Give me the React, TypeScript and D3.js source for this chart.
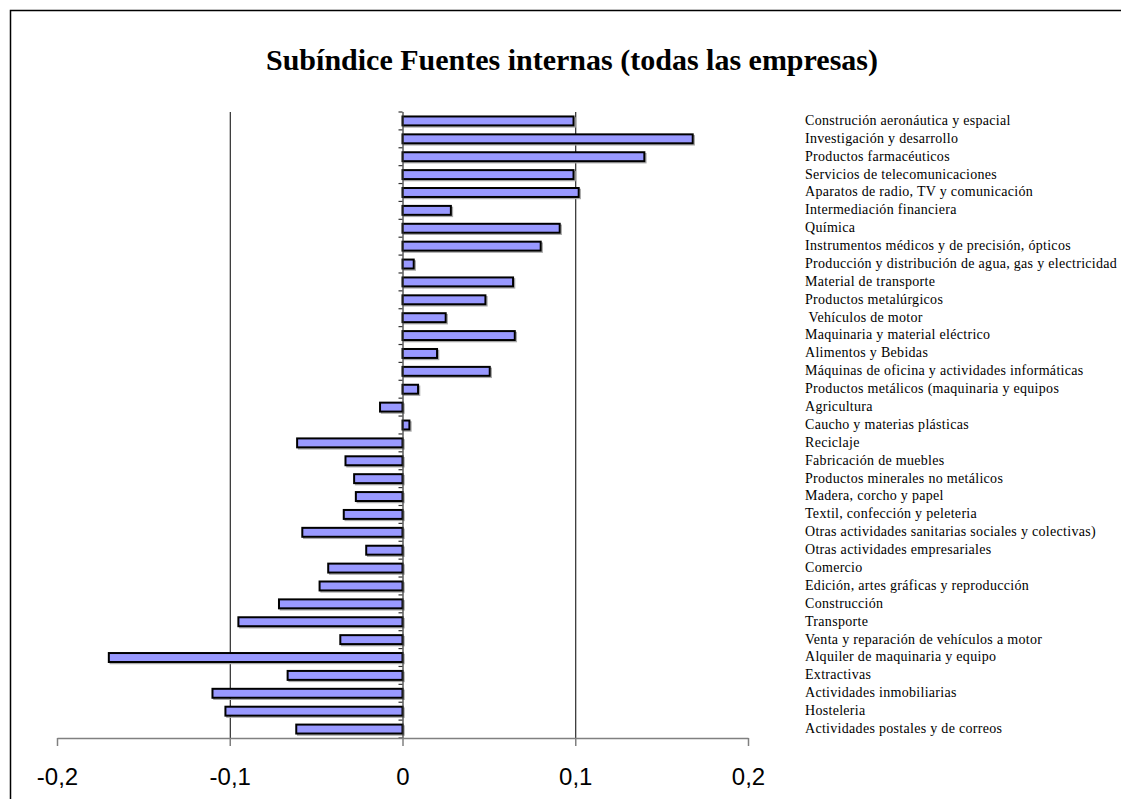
import React from 'react';
import * as d3 from 'd3';
import { useRef } from 'react';
import { useEffect } from 'react';

const categories = [
  'Construción aeronáutica y espacial',
  'Investigación y desarrollo',
  'Productos farmacéuticos',
  'Servicios de telecomunicaciones',
  'Aparatos de radio, TV y comunicación',
  'Intermediación financiera',
  'Química',
  'Instrumentos médicos y de precisión, ópticos',
  'Producción y distribución de agua, gas y electricidad',
  'Material de transporte',
  'Productos metalúrgicos',
  ' Vehículos de motor',
  'Maquinaria y material eléctrico',
  'Alimentos y Bebidas',
  'Máquinas de oficina y actividades informáticas',
  'Productos metálicos (maquinaria y equipos',
  'Agricultura',
  'Caucho y materias plásticas',
  'Reciclaje',
  'Fabricación de muebles',
  'Productos minerales no metálicos',
  'Madera, corcho y papel',
  'Textil, confección y peleteria',
  'Otras actividades sanitarias sociales y colectivas)',
  'Otras actividades empresariales',
  'Comercio',
  'Edición, artes gráficas y reproducción',
  'Construcción',
  'Transporte',
  'Venta y reparación de vehículos a motor',
  'Alquiler de maquinaria y equipo',
  'Extractivas',
  'Actividades inmobiliarias',
  'Hosteleria',
  'Actividades postales y de correos',
];

const values = [
  0.099, 0.168, 0.14, 0.099, 0.102, 0.028, 0.091, 0.08, 0.0065, 0.064,
  0.048, 0.025, 0.065, 0.02, 0.0505, 0.009, -0.013, 0.004, -0.061, -0.033,
  -0.028, -0.027, -0.034, -0.058, -0.021, -0.043, -0.048, -0.0715, -0.095, -0.036,
  -0.17, -0.0665, -0.11, -0.1025, -0.0615,
];

const xTicks = [-0.2, -0.1, 0, 0.1, 0.2];
const gridTicks = [-0.1, 0.1];

const title = 'Subíndice Fuentes internas (todas las empresas)';

function Chart({ width, height }: { width: number; height: number }) {
  const root = useRef<HTMLDivElement>(null);

  useEffect(() => {
    const createSVG = () => {
      const top = 112;
      const bottom = 738;

      const scaleX = d3.scaleLinear().domain([-0.2, 0.2]).range([57, 748]);

      const scaleY = d3
        .scaleBand<string>()
        .domain(categories)
        .range([top, bottom])
        .paddingInner(0.5)
        .paddingOuter(0.25);

      const svg = d3
        .create('svg')
        .attr('viewBox', `0, 0, ${width}, ${height}`)
        .attr('width', width)
        .attr('height', height)
        .style('position', 'absolute')
        .style('left', '0px')
        .style('top', '0px')
        .style('background', '#fff');

      // chart frame
      svg
        .append('rect')
        .attr('x', 10.5)
        .attr('y', 10.5)
        .attr('width', width + 20)
        .attr('height', height + 20)
        .attr('fill', '#fff')
        .attr('stroke', '#000')
        .attr('stroke-width', 1.5);

      svg
        .append('text')
        .attr('x', 572)
        .attr('y', 70)
        .attr('text-anchor', 'middle')
        .attr('font-family', '"Liberation Serif", "Times New Roman", serif')
        .attr('font-weight', 'bold')
        .attr('font-size', 30)
        .text(title);

      // gridlines
      svg
        .append('g')
        .selectAll('line')
        .data(gridTicks)
        .join('line')
        .attr('x1', d => scaleX(d) + 0.5)
        .attr('x2', d => scaleX(d) + 0.5)
        .attr('y1', top)
        .attr('y2', bottom)
        .attr('stroke', '#000')
        .attr('stroke-width', 1);

      // bar shadows
      svg
        .append('g')
        .selectAll('rect')
        .data(values)
        .join('rect')
        .attr('x', d => Math.min(scaleX(0), scaleX(d)) + 1.5)
        .attr('y', (d, i) => (scaleY(categories[i]) as number) + 1.5)
        .attr('width', d => Math.abs(scaleX(d) - scaleX(0)))
        .attr('height', scaleY.bandwidth())
        .attr('fill', 'none')
        .attr('stroke', '#aaa')
        .attr('stroke-width', 1.5);

      svg
        .append('g')
        .selectAll('rect')
        .data(values)
        .join('rect')
        .attr('x', d => Math.min(scaleX(0), scaleX(d)))
        .attr('y', (d, i) => scaleY(categories[i]) as number)
        .attr('width', d => Math.abs(scaleX(d) - scaleX(0)))
        .attr('height', scaleY.bandwidth())
        .attr('fill', '#9999ff')
        .attr('stroke', '#000')
        .attr('stroke-width', 2);

      // category axis at zero
      const step = scaleY.step();
      const bounds = d3.range(categories.length + 1).map(i => top + i * step);
      const yAxis = svg.append('g');
      yAxis
        .append('line')
        .attr('x1', scaleX(0) + 0.5)
        .attr('x2', scaleX(0) + 0.5)
        .attr('y1', top)
        .attr('y2', bottom)
        .attr('stroke', '#333')
        .attr('stroke-width', 1.2);
      yAxis
        .selectAll('line.tick')
        .data(bounds)
        .join('line')
        .attr('class', 'tick')
        .attr('x1', scaleX(0) - 4)
        .attr('x2', scaleX(0))
        .attr('y1', d => d)
        .attr('y2', d => d)
        .attr('stroke', '#333')
        .attr('stroke-width', 1.2);

      // value axis
      const xAxis = (g: any) => g
        .attr('transform', `translate(0,${bottom})`)
        .call(d3.axisBottom(scaleX).tickValues(xTicks).tickSize(8).tickSizeOuter(0).tickFormat(d => String(d).replace('.', ',')))
        .call((g: any) => g.select('.domain').attr('stroke', '#808080').attr('stroke-width', 1.5))
        .call((g: any) => g.selectAll('.tick line').attr('stroke', '#808080').attr('stroke-width', 1.5))
        .call((g: any) => g.selectAll('.tick text')
          .attr('fill', '#000')
          .attr('font-family', '"Liberation Sans", Arial, sans-serif')
          .attr('font-size', 24)
          .attr('dy', 0)
          .attr('y', 47));

      svg.append('g').call(xAxis);

      // category labels on the right
      svg
        .append('g')
        .selectAll('text')
        .data(categories)
        .join('text')
        .attr('x', 805)
        .attr('y', d => (scaleY(d) as number) + scaleY.bandwidth() / 2 - 1)
        .attr('dy', '0.35em')
        .attr('font-family', '"Liberation Serif", "Times New Roman", serif')
        .attr('font-size', 14)
        .attr('letter-spacing', 0.3)
        .attr('fill', '#000')
        .style('white-space', 'pre')
        .text(d => d);

      return svg.node();
    }
    const rootNode = root.current;

    rootNode?.appendChild(createSVG() as Node);

    return () => {
      if (rootNode && rootNode.firstChild) {
        rootNode.removeChild(rootNode.firstChild);
      }
    }
  }, [width, height]);

  return (
    <div ref={root} />
  )
}

export default function App() {
  return <Chart width={1121} height={799} />;
}
